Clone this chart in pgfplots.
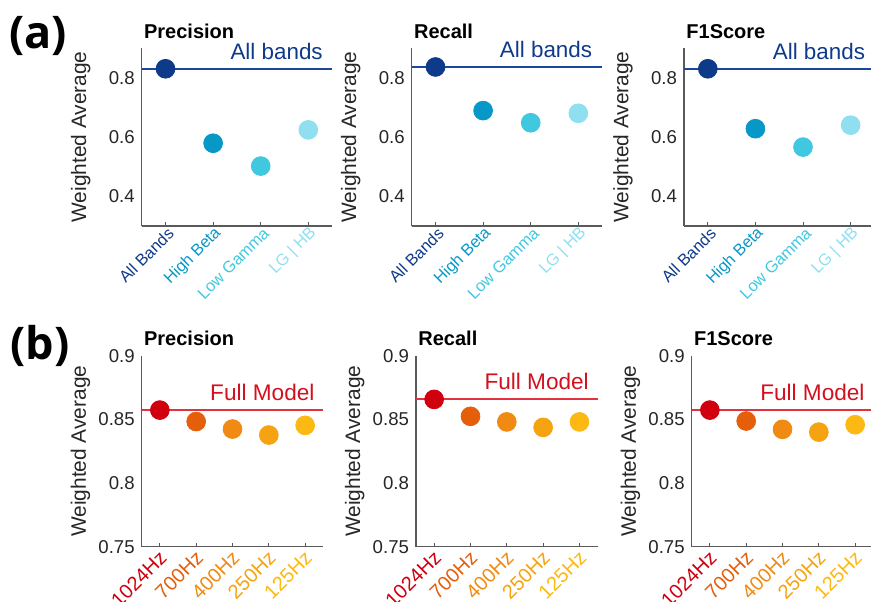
\documentclass[border=0pt]{standalone}
\usepackage{pgfplots}
\pgfplotsset{compat=1.18}
\usepackage{fontspec}
\setmainfont{Liberation Sans}
\newfontfamily\panelfont{Open Sans}
\definecolor{navy}{RGB}{14,58,138}
\definecolor{navyline}{RGB}{28,72,155}
\definecolor{cHB}{RGB}{8,152,200}
\definecolor{cLG}{RGB}{64,200,224}
\definecolor{cLH}{RGB}{144,223,240}
\definecolor{r1}{RGB}{208,0,15}
\definecolor{r2}{RGB}{229,94,10}
\definecolor{r3}{RGB}{240,138,18}
\definecolor{r4}{RGB}{245,163,17}
\definecolor{r5}{RGB}{253,185,19}
\definecolor{redline}{RGB}{226,50,62}
\definecolor{redtext}{RGB}{210,16,30}
\definecolor{axgray}{RGB}{90,90,90}
\definecolor{txtgray}{RGB}{38,38,38}
\pgfplotsset{
  common/.style={
    scale only axis,
    anchor=south west,
    axis x line*=bottom, axis y line*=left,
    axis line style={draw=axgray, line width=0.6pt, -},
    tick style={draw=axgray, line width=0.5pt},
    tick align=inside, major tick length=2pt,
    ytick style={draw=none},
    /pgf/number format/assume math mode=true,
    yticklabel style={font=\fontsize{9.3}{10}\selectfont, text=txtgray},
    ylabel={Weighted Average},
    ylabel style={font=\fontsize{10.45}{12}\selectfont, text=txtgray, anchor=center},
    title style={font=\fontsize{10}{12}\selectfont\bfseries, at={(axis description cs:0,1)}, anchor=base west, inner sep=0pt, xshift=1pt},
    clip=false,
  },
  toprow/.style={
    common, width=95.2pt, height=89pt,
    xmin=0.5, xmax=4.5, ymin=0.3, ymax=0.9,
    xtick={1,2,3,4},
    ytick={0.4,0.6,0.8},
    ylabel style={at={(axis description cs:-0.32,0.5)}},
    title style={yshift=-1.2pt},
    xticklabel style={font=\fontsize{8.2}{9}\selectfont, xshift=3.5pt, yshift=-1.5pt, rotate=45, anchor=east, inner sep=1pt},
    xticklabels={\textcolor{navy}{All Bands},\textcolor{cHB}{High Beta},\textcolor{cLG}{Low Gamma},\textcolor{cLH}{LG | HB}},
  },
  botrow/.style={
    common, width=90.8pt, height=95.5pt,
    xmin=0.5, xmax=5.5, ymin=0.75, ymax=0.9,
    xtick={1,2,3,4,5},
    ytick={0.75,0.8,0.85,0.9},
    yticklabels={0.75,0.8,0.85,0.9},
    ylabel style={at={(axis description cs:-0.337,0.5)}},
    title style={yshift=-0.7pt},
    xticklabel style={font=\fontsize{10}{11}\selectfont, xshift=2.5pt, yshift=-3pt, rotate=45, anchor=east, inner sep=1pt},
    xticklabels={\textcolor{r1}{1024Hz},\textcolor{r2}{700Hz},\textcolor{r3}{400Hz},\textcolor{r4}{250Hz},\textcolor{r5}{125Hz}},
  },
  pt/.style={only marks, mark=*, mark size=4.7pt, color=#1, fill=#1, draw=#1},
}
\begin{document}
\begin{tikzpicture}
\path[use as bounding box] (0,0) rectangle (435.5pt,300.5pt);
\node[anchor=base west, inner sep=0pt, font=\fontsize{22.5}{24}\selectfont\panelfont\bfseries] at (4.5pt,276pt) {(a)};
\node[anchor=base west, inner sep=0pt, font=\fontsize{22.5}{24}\selectfont\panelfont\bfseries] at (5pt,121pt) {(b)};

% ---------- top row ----------
\begin{axis}[toprow, at={(70.85pt,187.5pt)}, title={Precision}]
\addplot[navyline, line width=1pt] coordinates {(0.5,0.830) (4.5,0.830)};
\addplot[pt=navy] coordinates {(1,0.830)};
\addplot[pt=cHB] coordinates {(2,0.579)};
\addplot[pt=cLG] coordinates {(3,0.502)};
\addplot[pt=cLH] coordinates {(4,0.624)};
\node[anchor=base east, inner sep=0pt, text=navy, font=\fontsize{11.2}{12}\selectfont] at (axis cs:4.5,0.830) [xshift=-4.5pt, yshift=4.6pt] {All bands};
\end{axis}

\begin{axis}[toprow, at={(205.85pt,187.5pt)}, title={Recall}]
\addplot[navyline, line width=1pt] coordinates {(0.5,0.837) (4.5,0.837)};
\addplot[pt=navy] coordinates {(1,0.836)};
\addplot[pt=cHB] coordinates {(2,0.689)};
\addplot[pt=cLG] coordinates {(3,0.648)};
\addplot[pt=cLH] coordinates {(4,0.680)};
\node[anchor=base east, inner sep=0pt, text=navy, font=\fontsize{11.2}{12}\selectfont] at (axis cs:4.5,0.837) [xshift=-4.8pt, yshift=4.6pt] {All bands};
\end{axis}

\begin{axis}[toprow, at={(342pt,187.5pt)}, title={F1Score}]
\addplot[navyline, line width=1pt] coordinates {(0.5,0.830) (4.5,0.830)};
\addplot[pt=navy] coordinates {(1,0.830)};
\addplot[pt=cHB] coordinates {(2,0.628)};
\addplot[pt=cLG] coordinates {(3,0.566)};
\addplot[pt=cLH] coordinates {(4,0.640)};
\node[anchor=base east, inner sep=0pt, text=navy, font=\fontsize{11.2}{12}\selectfont] at (axis cs:4.5,0.830) [xshift=-4.5pt, yshift=4.6pt] {All bands};
\end{axis}

% ---------- bottom row ----------
\begin{axis}[botrow, at={(70.85pt,27.15pt)}, title={Precision}]
\addplot[redline, line width=0.9pt] coordinates {(0.5,0.8573) (5.5,0.8573)};
\addplot[pt=r1] coordinates {(1,0.8573)};
\addplot[pt=r2] coordinates {(2,0.8483)};
\addplot[pt=r3] coordinates {(3,0.8424)};
\addplot[pt=r4] coordinates {(4,0.8377)};
\addplot[pt=r5] coordinates {(5,0.8453)};
\node[anchor=base east, inner sep=0pt, text=redtext, font=\fontsize{11.3}{12}\selectfont] at (axis cs:5.5,0.8573) [xshift=-4.2pt, yshift=4.7pt] {Full Model};
\end{axis}

\begin{axis}[botrow, at={(208pt,27.15pt)}, title={Recall}]
\addplot[redline, line width=0.9pt] coordinates {(0.5,0.866) (5.5,0.866)};
\addplot[pt=r1] coordinates {(1,0.8657)};
\addplot[pt=r2] coordinates {(2,0.8524)};
\addplot[pt=r3] coordinates {(3,0.8480)};
\addplot[pt=r4] coordinates {(4,0.8437)};
\addplot[pt=r5] coordinates {(5,0.8480)};
\node[anchor=base east, inner sep=0pt, text=redtext, font=\fontsize{11.3}{12}\selectfont] at (axis cs:5.5,0.866) [xshift=-4.2pt, yshift=5pt] {Full Model};
\end{axis}

\begin{axis}[botrow, at={(345.85pt,27.15pt)}, title={F1Score}]
\addplot[redline, line width=0.9pt] coordinates {(0.5,0.8573) (5.5,0.8573)};
\addplot[pt=r1] coordinates {(1,0.8573)};
\addplot[pt=r2] coordinates {(2,0.8487)};
\addplot[pt=r3] coordinates {(3,0.8422)};
\addplot[pt=r4] coordinates {(4,0.8400)};
\addplot[pt=r5] coordinates {(5,0.8458)};
\node[anchor=base east, inner sep=0pt, text=redtext, font=\fontsize{11.3}{12}\selectfont] at (axis cs:5.5,0.8573) [xshift=-4.2pt, yshift=4.7pt] {Full Model};
\end{axis}
\end{tikzpicture}
\end{document}
